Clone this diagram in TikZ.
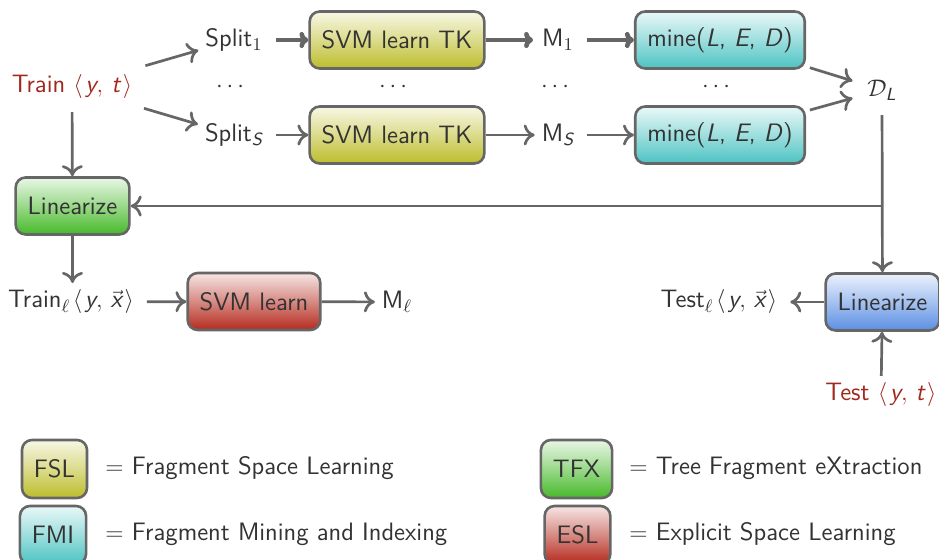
\documentclass[tikz,border=0pt]{standalone}
\usepackage{amsmath}
\usetikzlibrary{arrows.meta}
\definecolor{ln}{HTML}{666666}
\definecolor{txt}{HTML}{333333}
\definecolor{trn}{HTML}{A0281C}
\definecolor{ylw}{HTML}{BDBD2C}
\definecolor{tea}{HTML}{4DC3C3}
\definecolor{grn}{HTML}{47B92A}
\definecolor{rdd}{HTML}{B52A1E}
\definecolor{blu}{HTML}{5B8FE4}
\newcommand\yt{$\langle\mkern2mu\textsl{y},\,\textsl{t}\mkern2mu\rangle$}
\newcommand\yx{$\mkern2mu\langle\mkern2mu\textsl{y},\,\vec{\textsl{x}}\mkern2mu\rangle$}
\begin{document}
\begin{tikzpicture}[x=0.5pt,y=-0.5pt,
  font=\fontsize{12.6}{15}\selectfont\sffamily, text=txt,
  box/.style={draw=ln, line width=1.3pt, rounded corners=5pt, text=txt,
    inner xsep=6pt, minimum height=28.5pt},
  shd/.style={top color=#1!12, bottom color=#1, middle color=#1!55},
  fsl/.style={box, shd=ylw},
  fmi/.style={box, shd=tea},
  tfx/.style={box, shd=grn},
  esl/.style={box, shd=rdd},
  lin/.style={box, shd=blu},
  ar/.style={draw=ln, line width=1.35pt, -{To[length=5.5pt,width=10.5pt]}},
  tar/.style={draw=ln, line width=2.3pt, -{To[length=4.5pt,width=8pt]}},
  red/.style={text=trn}]
\useasboundingbox (0,0) rectangle (939,560);

% top part
\node[red] (train) at (72,87) {Train \yt};
\node (s1) at (234,40) {Split$_1$};
\node (sS) at (234,135) {Split$_{\textsl{S}}$};
\node[fsl, minimum width=87pt] (svm1) at (397,40) {SVM learn TK};
\node[fsl, minimum width=87pt] (svmS) at (397,135) {SVM learn TK};
\node (m1) at (558,40) {M$_1$};
\node (mS) at (558,135) {M$_{\textsl{S}}$};
\node[fmi, minimum width=83pt] (mine1) at (720,40) {mine(\textsl{L}, \textsl{E}, \textsl{D})};
\node[fmi, minimum width=83pt] (mineS) at (720,135) {mine(\textsl{L}, \textsl{E}, \textsl{D})};
\node (DL) at (882,90) {$\mathcal{D}_{\textsl{L}}$};
\node (d1) at (232,87) {$\cdots$};
\node (d2) at (395,87) {$\cdots$};
\node (d3) at (557,87) {$\cdots$};
\node (d4) at (718,87) {$\cdots$};

% middle part
\node[tfx, minimum width=56.5pt] (linG) at (72.5,206) {Linearize};
\node (trainl) at (71,302) {Train$_\ell$\yx};
\node[esl, minimum width=66pt] (svmR) at (254,301.5) {SVM learn};
\node (ml) at (397,302) {M$_\ell$};
\node[lin, minimum width=55.5pt] (linB) at (882.5,302) {Linearize};
\node (testl) at (719,302) {Test$_\ell$\yx};
\node[red] (test) at (881,395) {Test \yt};

% connectors
\draw[ar, shorten <=4pt] (train) -- (s1);
\draw[ar, shorten <=4pt] (train) -- (sS);
\draw[tar, shorten <=3pt] (s1) -- (svm1);
\draw[ar, shorten <=3pt] (sS) -- (svmS);
\draw[tar, shorten >=1pt] (svm1) -- (m1);
\draw[ar] (svmS) -- (mS);
\draw[tar, shorten <=3pt] (m1) -- (mine1);
\draw[ar, shorten <=3pt] (mS) -- (mineS);
\draw[ar, shorten <=2pt, shorten >=4pt] (mine1) -- (DL);
\draw[ar, shorten <=2pt, shorten >=4pt] (mineS) -- (DL);
\draw[ar, shorten <=3pt] (train) -- (linG);
\coordinate (br) at (DL |- linG);
\draw[ar, shorten <=4pt] (DL) -- (linB);
\draw[ar] (br) -- (linG);
\draw[ar] (linG.south) -- (linG.south |- trainl.north);
\draw[ar, shorten <=3pt] (trainl) -- (svmR);
\draw[ar] (svmR) -- (ml);
\draw[ar, shorten >=3pt] (linB) -- (testl);
\draw[ar] (test) -- (linB);

% legend
\node[fsl, minimum height=29pt] (lfsl) at (54.5,469) {FSL};
\node[fmi, minimum height=29pt] (lfmi) at (53,535) {FMI};
\node[tfx, minimum height=29pt] (ltfx) at (576.5,469) {TFX};
\node[esl, minimum height=29pt] (lesl) at (577.5,535) {ESL};
\node[anchor=west, inner xsep=0pt] (tfsl) at (105,468) {$=$ Fragment Space Learning};
\node[anchor=west, inner xsep=0pt] (tfmi) at (105,534) {$=$ Fragment Mining and Indexing};
\node[anchor=west, inner xsep=0pt] (ttfx) at (629,468) {$=$ Tree Fragment eXtraction};
\node[anchor=west, inner xsep=0pt] (tesl) at (629,534) {$=$ Explicit Space Learning};
\end{tikzpicture}
\end{document}
